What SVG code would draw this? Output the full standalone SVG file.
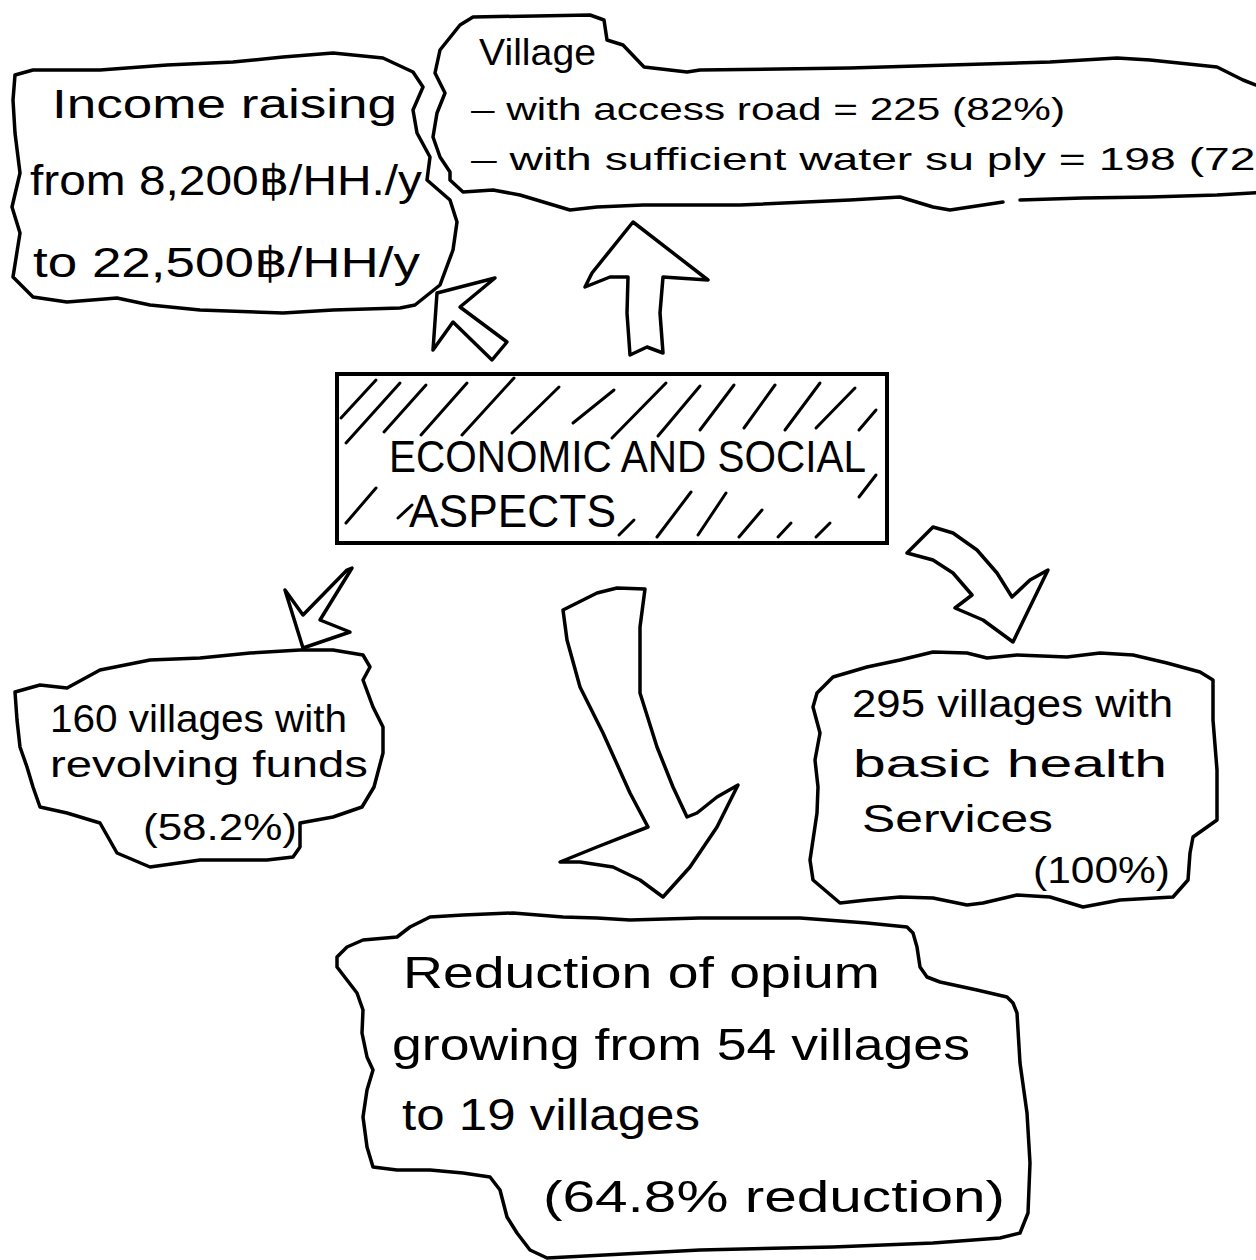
<svg xmlns="http://www.w3.org/2000/svg" width="1256" height="1260" viewBox="0 0 1256 1260">
<style>
.bg{fill:#ffffff}
.cloud{fill:none;stroke:#000;stroke-width:3.5;stroke-linejoin:round;stroke-linecap:round}
.arrow{fill:#fff;stroke:#000;stroke-width:3.5;stroke-linejoin:round;stroke-linecap:round}
.hatch{stroke:#000;stroke-width:3;stroke-linecap:round}
.box{fill:none;stroke:#000;stroke-width:4}
.t{font-family:"Liberation Sans","DejaVu Sans",sans-serif;fill:#000}
</style>
<rect class="bg" x="0" y="0" width="1256" height="1260"/>

<g id="connectors">
  <path class="arrow" d="M437,293 L495,278 L460,307 L507,342 L492,360 L453,322 L433,350 Z"/>
  <path class="arrow" d="M633,222 L708,280 L663,277 L660,313 L663,353 L647,347 L630,355 L627,313 L628,277 L610,277 L585,287 L592,273 Z"/>
  <path class="arrow" d="M352,568 L320,620 L350,632 L303,648 L285,590 L303,615 L347,570 Z"/>
  <path class="arrow" d="M563,610 L597,593 L617,588 L645,589 L640,627 L640,693 L657,747 L673,787 L687,817 L697,813 L717,797 L738,785 L717,827 L690,867 L663,897 L640,880 L613,867 L580,862 L560,862 L597,847 L648,827 L630,793 L603,733 L580,687 L567,640 Z"/>
  <path class="arrow" d="M933,527 L953,533 L977,550 L997,573 L1012,597 L1030,580 L1048,570 L1027,613 L1013,642 L983,620 L955,608 L972,595 L953,573 L933,560 L907,553 Z"/>
</g>

<g id="node-income">
  <path class="cloud" d="M15,75 L33,70 L100,70 L167,65 L233,62 L283,57 L333,53 L383,58 L413,72 L423,87 L413,110 L417,133 L430,157 L427,180 L450,200 L457,222 L453,250 L440,285 L415,305 L400,308 L333,310 L283,313 L200,310 L150,305 L117,298 L67,302 L33,297 L13,277 L20,233 L12,207 L20,173 L15,133 L13,100 Z"/>
  <text class="t" x="52" y="118" font-size="40" textLength="345" lengthAdjust="spacingAndGlyphs">Income raising</text>
  <text class="t" x="30" y="195" font-size="42" textLength="392" lengthAdjust="spacingAndGlyphs">from 8,200฿/HH./y</text>
  <text class="t" x="33" y="277" font-size="42" textLength="387" lengthAdjust="spacingAndGlyphs">to 22,500฿/HH/y</text>
</g>

<g id="node-village">
  <path class="cloud" d="M1270,86 L1256,85 L1243,80 L1217,67 L1150,60 L1117,58 L1050,62 L950,65 L850,68 L700,70 L687,72 L644,67 L623,45 L607,40 L604,20 L590,15 L473,17 L460,25 L440,50 L435,73 L445,93 L437,113 L433,137 L440,157 L450,172 L450,180 L463,192 L493,190 L520,195 L570,210 L597,207 L643,205 L740,205 L850,200 L900,197 L933,207 L950,210 L1003,202"/>
  <path class="cloud" d="M1020,200 L1083,198 L1150,197 L1217,195 L1270,192"/>
  <text class="t" x="479" y="65" font-size="36" textLength="117" lengthAdjust="spacingAndGlyphs">Village</text>
  <text class="t" x="471" y="120" font-size="32" textLength="594" lengthAdjust="spacingAndGlyphs">– with access road = 225 (82%)</text>
  <text class="t" x="471" y="170" font-size="32" textLength="841" lengthAdjust="spacingAndGlyphs">– with sufficient water su ply = 198 (72%)</text>
</g>

<g id="node-center">
  <rect class="box" x="337" y="374" width="550" height="169"/>
  <g>
    <line class="hatch" x1="341" y1="418" x2="376" y2="380"/>
    <line class="hatch" x1="346" y1="443" x2="400" y2="383"/>
    <line class="hatch" x1="384" y1="432" x2="426" y2="385"/>
    <line class="hatch" x1="421" y1="435" x2="467" y2="383"/>
    <line class="hatch" x1="462" y1="435" x2="514" y2="378"/>
    <line class="hatch" x1="512" y1="433" x2="559" y2="387"/>
    <line class="hatch" x1="573" y1="423" x2="614" y2="390"/>
    <line class="hatch" x1="612" y1="438" x2="666" y2="383"/>
    <line class="hatch" x1="658" y1="436" x2="700" y2="386"/>
    <line class="hatch" x1="700" y1="430" x2="734" y2="385"/>
    <line class="hatch" x1="744" y1="428" x2="775" y2="385"/>
    <line class="hatch" x1="785" y1="430" x2="820" y2="383"/>
    <line class="hatch" x1="816" y1="428" x2="855" y2="388"/>
    <line class="hatch" x1="859" y1="430" x2="876" y2="410"/>
    <line class="hatch" x1="346" y1="523" x2="376" y2="488"/>
    <line class="hatch" x1="398" y1="518" x2="412" y2="505"/>
    <line class="hatch" x1="619" y1="535" x2="634" y2="520"/>
    <line class="hatch" x1="657" y1="537" x2="691" y2="492"/>
    <line class="hatch" x1="698" y1="535" x2="726" y2="493"/>
    <line class="hatch" x1="739" y1="537" x2="762" y2="510"/>
    <line class="hatch" x1="778" y1="537" x2="791" y2="523"/>
    <line class="hatch" x1="816" y1="537" x2="830" y2="523"/>
    <line class="hatch" x1="859" y1="497" x2="876" y2="475"/>
  </g>
  <text class="t" x="389" y="472" font-size="44" textLength="477" lengthAdjust="spacingAndGlyphs">ECONOMIC AND SOCIAL</text>
  <text class="t" x="409" y="527" font-size="46" textLength="207" lengthAdjust="spacingAndGlyphs">ASPECTS</text>
</g>

<g id="node-funds">
  <path class="cloud" d="M15,692 L40,685 L67,688 L100,670 L150,660 L200,658 L250,653 L300,650 L333,650 L363,655 L370,667 L363,680 L373,707 L383,727 L383,753 L374,787 L362,807 L333,817 L300,823 L300,847 L293,857 L267,860 L200,860 L150,867 L117,853 L100,823 L67,813 L40,807 L33,787 L27,767 L20,747 L17,720 Z"/>
  <text class="t" x="50" y="732" font-size="38" textLength="297" lengthAdjust="spacingAndGlyphs">160 villages with</text>
  <text class="t" x="50" y="777" font-size="36" textLength="318" lengthAdjust="spacingAndGlyphs">revolving funds</text>
  <text class="t" x="143" y="840" font-size="36" textLength="154" lengthAdjust="spacingAndGlyphs">(58.2%)</text>
</g>

<g id="node-health">
  <path class="cloud" d="M817,693 L833,677 L867,667 L900,660 L933,652 L967,653 L987,658 L1017,655 L1067,657 L1100,653 L1133,655 L1167,663 L1200,672 L1213,680 L1213,720 L1217,770 L1217,820 L1193,837 L1190,853 L1188,880 L1173,897 L1120,900 L1083,907 L1050,897 L1017,895 L983,903 L967,905 L933,898 L900,897 L867,900 L840,903 L813,880 L810,860 L813,840 L817,813 L818,787 L815,760 L820,733 L813,707 Z"/>
  <text class="t" x="852" y="717" font-size="38" textLength="321" lengthAdjust="spacingAndGlyphs">295 villages with</text>
  <text class="t" x="853" y="777" font-size="38" textLength="314" lengthAdjust="spacingAndGlyphs">basic health</text>
  <text class="t" x="862" y="832" font-size="38" textLength="191" lengthAdjust="spacingAndGlyphs">Services</text>
  <text class="t" x="1033" y="883" font-size="36" textLength="137" lengthAdjust="spacingAndGlyphs">(100%)</text>
</g>

<g id="node-opium">
  <path class="cloud" d="M337,957 L347,947 L363,940 L397,937 L410,927 L430,917 L463,915 L513,913 L563,917 L597,918 L630,920 L700,918 L800,918 L867,923 L907,927 L913,933 L917,947 L920,967 L927,977 L940,982 L977,990 L1007,997 L1013,1003 L1017,1013 L1020,1063 L1027,1113 L1030,1163 L1028,1213 L1020,1233 L1000,1238 L933,1243 L833,1247 L700,1250 L547,1258 L530,1250 L517,1233 L507,1217 L500,1190 L490,1177 L463,1173 L430,1170 L397,1170 L373,1167 L367,1147 L363,1117 L367,1090 L373,1070 L367,1057 L362,1033 L363,1010 L357,993 L347,980 L337,967 Z"/>
  <text class="t" x="403" y="988" font-size="44" textLength="477" lengthAdjust="spacingAndGlyphs">Reduction of opium</text>
  <text class="t" x="392" y="1060" font-size="44" textLength="578" lengthAdjust="spacingAndGlyphs">growing from 54 villages</text>
  <text class="t" x="402" y="1130" font-size="44" textLength="298" lengthAdjust="spacingAndGlyphs">to 19 villages</text>
  <text class="t" x="543" y="1212" font-size="44" textLength="462" lengthAdjust="spacingAndGlyphs">(64.8% reduction)</text>
</g>
</svg>
